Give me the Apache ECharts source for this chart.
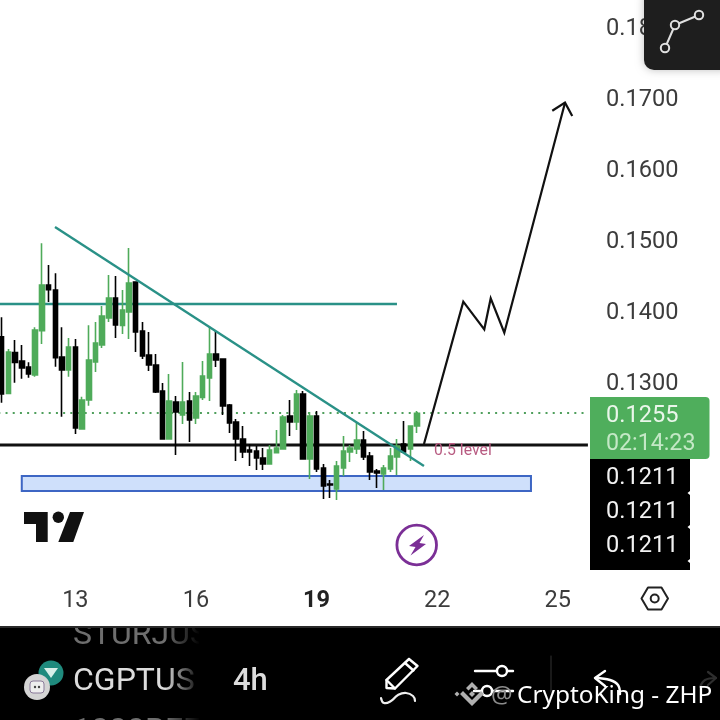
<!DOCTYPE html>
<html><head><meta charset="utf-8">
<style>html,body{margin:0;padding:0;background:#fff}#c{width:720px;height:720px}</style>
<script src="https://cdn.jsdelivr.net/npm/echarts@6/dist/echarts.min.js"></script>
</head><body><div id="c"></div>
<script>
// candle values [open, close, low, high], one per 4h bar
const opens = [.13624,.12826,.13399,.13282,.13197,.13085,.13709,.14352,.14282,.13338,.13155,.13479,.12324,.12732,.13268,.13507,.13887,.14169,.13784,.13972,.14394,.13704,.13366,.13225,.12859,.12183,.12704,.12521,.12718,.12479,.12770,.13042,.13380,.13310,.12662,.12423,.12183,.12028,.12014,.11915,.11831,.11991,.12042,.12507,.12423,.12817,.11901,.12507,.11775,.11549,.11479,.11775,.12000,.12042,.12169,.11944,.11732,.11690,.11760,.11930,.12113,.12042,.12366];
const closes = [.12817,.13408,.13263,.13183,.13099,.13718,.14352,.14286,.13329,.13155,.13479,.12338,.12732,.13296,.13535,.13916,.14169,.13789,.14000,.14380,.13690,.13352,.13225,.12845,.12183,.12718,.12563,.12704,.12451,.12789,.13070,.13380,.13296,.12648,.12408,.12183,.12000,.12000,.11915,.11831,.12028,.12056,.12493,.12423,.12817,.11901,.12507,.11760,.11521,.11535,.11803,.12014,.12056,.12169,.11930,.11718,.11704,.11775,.11944,.12084,.12000,.12366,.12545];
const lows = [.12695,.12817,.12977,.13033,.13047,.13061,.13521,.14113,.13202,.12498,.13061,.12253,.12324,.12653,.13127,.13465,.13831,.13606,.13662,.13592,.13408,.13310,.13141,.12831,.12183,.12183,.11958,.12394,.12141,.12394,.12732,.12718,.13197,.12521,.12268,.11873,.11915,.11803,.11746,.11746,.11831,.11986,.12042,.12225,.12310,.11901,.11620,.11718,.11338,.11352,.11324,.11662,.11859,.11972,.11887,.11606,.11493,.11465,.11718,.11676,.11986,.11873,.12268];
const highs = [.13897,.13451,.13577,.13507,.13263,.13756,.14939,.14634,.14516,.13756,.13606,.13592,.12779,.13784,.13831,.14056,.14493,.14479,.14282,.14873,.14394,.13831,.13690,.13380,.12972,.13099,.12789,.13268,.12845,.12845,.13282,.13765,.13704,.13310,.12676,.12465,.12366,.12113,.12084,.12056,.12099,.12310,.12521,.12732,.12873,.12859,.12563,.12577,.11831,.11606,.11873,.12225,.12099,.12408,.12296,.12000,.11760,.11817,.12056,.12183,.12437,.12366,.12577];
const barCount = 88;
const dayLabels = ['13','16','19','22','25'];
const dayBarIndex = [11,29,47,65,83];
const priceLabels = ['0.1300','0.1400','0.1500','0.1600','0.1700','0.1800'];
// drawn levels and lines, in bar index / price
const lastPrice = 0.1255;
const supportLevel = 0.12099;
const resistanceLevel = 0.14085;
const resistanceEndBar = 59;
const trendBars = [7.96, 63.03];
const trendPrices = [.15169, .11803];
const arrowBars = [63.03,68.9,72.03,72.99,75.02,84.08];
const arrowPrices = [.12113,.14117,.13728,.14165,.1368,.1692];
const headBars = [82.18,84.08,85.16];
const headPrices = [.16807,.1692,.16732];
const zoneBars = [3.0,79];
const zonePrices = [.11662,.11451];

const UP='#4fab5a', DOWN='#000000', TEAL='#2a9187';
const FONT='Roboto';
const categories = Array.from({length:barCount},(_,i)=>{const k=dayBarIndex.indexOf(i);return k>=0?dayLabels[k]:''});
const candles = opens.map((o,i)=>[o,closes[i],lows[i],highs[i]]);
const zip=(a,b)=>a.map((x,i)=>[x,b[i]]);
const lineS=(data,color,width,z,extra)=>Object.assign({type:'line',xAxisIndex:1,data,symbol:'none',silent:true,z,
  lineStyle:{color,width,cap:'butt',join:'miter'}},extra||{});

const chart=echarts.init(document.getElementById('c'),null,{renderer:'canvas'});
const t=(text,x,y,size,fill,extra)=>({type:'text',silent:true,z:extra&&extra.z||50,style:{text,x,y,font:`${extra&&extra.weight||'normal'} ${size}px ${extra&&extra.family||FONT}`,fill,verticalAlign:'middle',align:extra&&extra.align||'left'}});
const poly=(pts,fill,z)=>({type:'polygon',silent:true,z:z||60,shape:{points:pts},style:{fill}});
const pl=(pts,stroke,w,z,smooth)=>({type:'polyline',silent:true,z:z||60,shape:{points:pts,smooth:smooth||0},style:{stroke,lineWidth:w,fill:null,lineCap:'round',lineJoin:'round'}});
const circ=(cx,cy,r,fill,stroke,w,z)=>({type:'circle',silent:true,z:z||60,shape:{cx,cy,r},style:{fill:fill||null,stroke:stroke||null,lineWidth:w||0}});
const rect=(x,y,w,h,fill,r,z,extra)=>({type:'rect',silent:true,z:z||40,shape:{x,y,width:w,height:h,r:r||0},style:Object.assign({fill},extra||{})});

const fade={type:'linear',x:0,y:0,x2:1,y2:0,colorStops:[{offset:0,color:'rgba(0,0,0,0)'},{offset:1,color:'#000'}]};
const graphics=[
  // price tags
  rect(590,397,119.5,62,'#4fae5c',[0,4,4,0],40),
  rect(590,459,100,111,'#000',0,40),
  t('0.1255',606,416.5,23.6,'#eaf6ea'),
  t('02:14:23',606,444.5,23.2,'#c4e8c6'),
  t('0.1211',606,478.5,23.6,'#f2f2f2'),
  t('0.1211',606,512.5,23.6,'#f2f2f2'),
  t('0.1211',606,546,23.6,'#f2f2f2'),
  poly([[690,491],[687.5,493],[690,495]],'#fff',41),
  poly([[690,525],[687.5,527],[690,529]],'#fff',41),
  poly([[690,559],[687.5,561],[690,563]],'#fff',41),
  // 0.5 level label
  t('0.5 level',434,451,15.8,'#b85c82',{z:45}),
  // TradingView mark
  poly([[24,512],[47.7,512],[47.7,542],[36,542],[36,524],[24,524]],'#111'),
  circ(58.3,517.3,5.7,'#111'),
  poly([[70,512],[84,512],[73.3,542],[58.3,542]],'#111'),
  // lightning badge
  circ(416.7,545,19.8,'#fff','#7b2f96',2.8),
  poly([[424,535],[409,546],[415.5,547],[410.5,555.5],[426,544],[419.5,543]],'#7b2f96'),
  // settings hexagon
  pl([[641.5,598.5],[648,587.5],[661.5,587.5],[668,598.5],[661.5,609.5],[648,609.5],[641.5,598.5]],'#222',2),
  circ(654.7,598.5,4,'#fff','#222',2),
  // drawing-tool panel
  rect(644,-12,90,82,'#1e1e1e',10,48,{shadowBlur:8,shadowColor:'rgba(0,0,0,0.25)'}),
  pl([[665,48],[675,25],[699,15]],'#e0e0e0',2,60),
  circ(665,48,4.2,'#1e1e1e','#e0e0e0',2,61),
  circ(675,25,4.2,'#1e1e1e','#e0e0e0',2,61),
  circ(699,15,4.2,'#1e1e1e','#e0e0e0',2,61),
  // bottom bar
  rect(0,628,720,92,'#000',0,30),
  t('STURJUS',73,636,32,'#6e6e6e',{z:32}),
  rect(0,608,720,18,'#fff',0,33),
  rect(0,626,720,2,'#2a2a2a',0,34),
  t('CGPTUS',73,682,32,'#dcdcdc',{z:32}),
  t('1000BEE',73,732,32,'#6e6e6e',{z:32}),
  rect(165,628,35,92,fade,0,35),
  rect(199,628,30,92,'#000',0,35),
  t('4h',233,682,31,'#dddddd',{weight:'500'}),
  // coin icons
  circ(51,673,12.5,'#1f8a7d'),
  poly([[44,668],[58,668],[51,678]],'#d8efe9',61),
  circ(37,687,13,'#d4d4d4',null,0,62),
  rect(30,681,14,12,'#eee',3,63,{stroke:'#8a7a9a',lineWidth:1}),
  circ(35,687,1.2,'#444',null,0,64),
  circ(39,687,1.2,'#444',null,0,64),
  // pencil
  pl([[409,659],[417.5,666],[395,688.5],[386.5,688],[386.5,680],[409,659]],'#fff',2.4),
  pl([[386.5,680],[395,688.5]],'#fff',2.4),
  pl([[405,663],[413.5,670.5]],'#fff',2.4),
  pl([[381,698],[384,703],[391,701],[398,695],[406,693],[413,696],[415,701]],'#eee',2.2,60,0.5),
  // sliders
  pl([[475,671],[513,671]],'#fff',2.4),
  circ(502,671,5,'#000','#fff',2.4,61),
  pl([[474,691],[513,691]],'#fff',2.4),
  circ(487,691,5,'#000','#fff',2.4,61),
  pl([[551,656],[551,692]],'#333',1),
  // undo and redo
  pl([[605,671],[595,678],[605,686]],'#fff',2.4),
  pl([[596,678],[610,680],[618,685],[620,694]],'#fff',2.4,60,0.4),
  pl([[708,672],[716,678],[708,685]],'#2e2e2e',2.2),
  pl([[716,678],[705,680],[700,687]],'#2e2e2e',2.2,60,0.4),
  // watermark
  poly([[472,682],[478,688],[475.5,690.5],[472,687],[468.5,690.5],[466,688]],'#b0b0b0',70),
  poly([[481,691],[484,694],[472,706],[460,694],[463,691],[472,700]],'#b0b0b0',70),
  poly([[457,691.5],[459.5,694],[457,696.5],[454.5,694]],'#b0b0b0',70),
  poly([[472,691],[475,694],[472,697],[469,694]],'#b0b0b0',70),
  t('@',491,696,24,'#8c8c8c',{family:'"Noto Sans"',z:70}),
  t('CryptoKing - ZHP',517,696,24.4,'#ffffff',{family:'"Noto Sans"',z:70}),
];

chart.setOption({
  animation:false,
  backgroundColor:'#ffffff',
  grid:{left:-1.68,top:26,width:589.6,height:497,containLabel:false,outerBoundsMode:'none'},
  xAxis:[{
    type:'category',data:categories,boundaryGap:true,
    axisLine:{show:false},axisTick:{show:false},splitLine:{show:false},
    axisLabel:{interval:i=>dayBarIndex.includes(i),margin:66,color:'#3c3c3c',fontFamily:FONT,fontSize:23.5,hideOverlap:false,
      formatter:v=>v==='19'?'{b|19}':v,rich:{b:{fontWeight:'bold',fontSize:23.5,fontFamily:FONT,color:'#222'}}}
  },{
    type:'value',min:-0.5,max:barCount-0.5,show:false
  }],
  yAxis:{
    type:'value',position:'right',min:0.11,max:0.18,interval:0.01,scale:true,
    axisLine:{show:false},axisTick:{show:false},splitLine:{show:false},
    axisLabel:{margin:18,showMinLabel:true,showMaxLabel:true,
      rich:{a:{color:'#3c3c3c',fontFamily:FONT,fontSize:23.6,padding:[6,0,0,0]}},
      formatter:v=>{const s=v.toFixed(4);return priceLabels.includes(s)?`{a|${s}}`:''}}
  },
  series:[
    lineS([[zoneBars[0],zonePrices[0]]],'transparent',0,1,{markArea:{silent:true,z:1,
      itemStyle:{color:'#cfe0fb',borderColor:'#3d66c4',borderWidth:2},
      data:[[{xAxis:zoneBars[0],yAxis:zonePrices[0]},{xAxis:zoneBars[1],yAxis:zonePrices[1]}]]}}),
    lineS([[-0.5,lastPrice],[barCount-0.5,lastPrice]],'#4f9f5c',2,2,{lineStyle:{color:'#4f9f5c',width:2,type:[2,5.2]}}),
    lineS([[-0.5,supportLevel],[barCount-0.5,supportLevel]],'#111',3,2),
    lineS([[-0.5,resistanceLevel],[resistanceEndBar,resistanceLevel]],TEAL,2.4,2),
    {type:'candlestick',xAxisIndex:0,data:candles,barWidth:5,z:3,silent:true,
      itemStyle:{color:UP,color0:DOWN,borderColor:UP,borderColor0:DOWN,borderWidth:1.6}},
    lineS(zip(trendBars,trendPrices),TEAL,2.4,4),
    lineS(zip(arrowBars,arrowPrices),'#111',2.2,4),
    lineS(zip(headBars,headPrices),'#111',2.2,4),
  ],
  graphic:graphics
});
</script></body></html>
